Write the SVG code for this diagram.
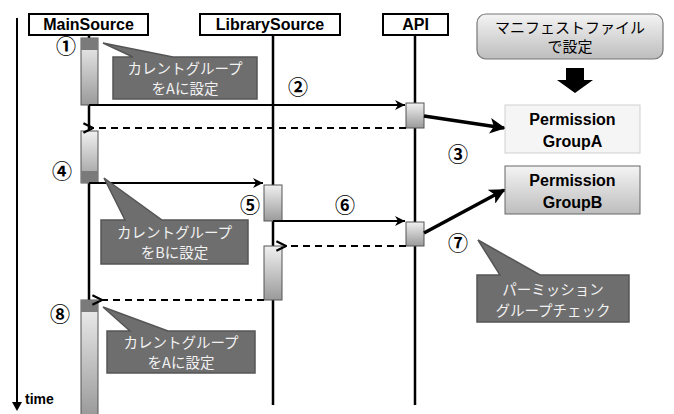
<svg xmlns="http://www.w3.org/2000/svg" width="674" height="414" viewBox="0 0 674 414">
  <style>
    .head { fill: #fff; stroke: #000; stroke-width: 2; }
    .headtxt { font-family: "Liberation Sans", Arial, sans-serif; font-weight: bold; font-size: 16px; text-anchor: middle; fill: #000; }
    .life { stroke: #000; stroke-width: 2.5; fill: none; }
    .act { fill: url(#actGrad); stroke: #555; stroke-width: 1; }
    .cap { fill: #7a7a7a; }
    .call { stroke: #000; stroke-width: 2; fill: none; marker-end: url(#solid); }
    .ret { stroke: #000; stroke-width: 2; fill: none; stroke-dasharray: 7 5; marker-end: url(#open); }
    .thick { stroke: #000; stroke-width: 3.5; fill: none; marker-end: url(#big); }
    .num { font-family: "Noto Sans CJK JP", "DejaVu Sans", sans-serif; font-weight: bold; font-size: 20px; text-anchor: middle; fill: #000; }
    .note { fill: #6e6e6e; stroke: #555; stroke-width: 1.5; }
    .notetxt { font-family: "Noto Sans CJK JP", "Liberation Sans", sans-serif; font-size: 14.5px; text-anchor: middle; fill: #f2f2f2; }
    .perm { font-family: "Liberation Sans", Arial, sans-serif; font-weight: bold; font-size: 16px; text-anchor: middle; fill: #000; }
    .jp { font-family: "Noto Sans CJK JP", sans-serif; font-size: 15px; text-anchor: middle; fill: #000; }
  </style>
  <defs>
    <linearGradient id="actGrad" x1="0" y1="0" x2="0" y2="1">
      <stop offset="0" stop-color="#f0f0f0"/>
      <stop offset="1" stop-color="#9a9a9a"/>
    </linearGradient>
    <linearGradient id="boxGrad" x1="0" y1="0" x2="0" y2="1">
      <stop offset="0" stop-color="#f4f4f4"/>
      <stop offset="1" stop-color="#bdbdbd"/>
    </linearGradient>
    <marker id="solid" viewBox="0 0 10 10" refX="10" refY="5" markerWidth="5" markerHeight="5" orient="auto" markerUnits="strokeWidth">
      <path d="M0,0 L10,5 L0,10 L3,5 Z" fill="#000"/>
    </marker>
    <marker id="open" viewBox="0 0 10 10" refX="1" refY="5" markerWidth="6" markerHeight="6" orient="auto" markerUnits="strokeWidth">
      <path d="M9,1 L1,5 L9,9" fill="none" stroke="#000" stroke-width="1.8"/>
    </marker>
    <marker id="big" viewBox="0 0 10 10" refX="9" refY="5" markerWidth="4.5" markerHeight="4.5" orient="auto" markerUnits="strokeWidth">
      <path d="M0,0 L10,5 L0,10 L2.5,5 Z" fill="#000"/>
    </marker>
  </defs>

  <!-- time axis -->
  <g id="time">
    <line x1="17" y1="18" x2="17" y2="404" stroke="#000" stroke-width="2"/>
    <path d="M12,402 L17,411 L22,402 Z" fill="#000"/>
    <text x="25" y="404" font-family="Liberation Sans, Arial, sans-serif" font-weight="bold" font-size="14">time</text>
  </g>

  <!-- lifelines -->
  <g id="lifelines">
    <line class="life" x1="89" y1="34" x2="89" y2="414"/>
    <line class="life" x1="273" y1="34" x2="273" y2="405"/>
    <line class="life" x1="415" y1="34" x2="415" y2="405"/>
  </g>

  <!-- participants -->
  <g id="MainSource">
    <rect class="head" x="29" y="14" width="119" height="21"/>
    <text class="headtxt" x="88.5" y="30">MainSource</text>
  </g>
  <g id="LibrarySource">
    <rect class="head" x="200" y="14" width="140" height="21"/>
    <text class="headtxt" x="270" y="30">LibrarySource</text>
  </g>
  <g id="API">
    <rect class="head" x="383" y="14" width="65" height="21"/>
    <text class="headtxt" x="415.5" y="30">API</text>
  </g>

  <!-- activation bars -->
  <g id="activations">
    <rect class="act" x="81" y="38" width="17" height="67"/>
    <rect class="cap" x="81" y="38" width="17" height="12"/>
    <rect class="act" x="81" y="131" width="17" height="52"/>
    <rect class="cap" x="81" y="171" width="17" height="12"/>
    <rect class="act" x="81" y="300" width="17" height="116"/>
    <rect class="cap" x="81" y="300" width="17" height="12"/>
    <rect class="act" x="264" y="185" width="18" height="36"/>
    <rect class="act" x="264" y="246" width="18" height="54"/>
    <rect class="act" x="406" y="103" width="18" height="25"/>
    <rect class="act" x="406" y="222" width="18" height="24"/>
  </g>

  <!-- manifest note and permission groups -->
  <g id="manifest">
    <rect x="477" y="14" width="186" height="45" rx="9" fill="url(#boxGrad)" stroke="#777" stroke-width="1.2"/>
    <text class="jp" x="570" y="33">マニフェストファイル</text>
    <text class="jp" x="570" y="52">で設定</text>
  </g>
  <g id="manifestArrow">
    <path d="M566,68 H584 V80 H593 L575,93 L557,80 H566 Z" fill="#000"/>
  </g>
  <g id="GroupA">
    <rect x="505" y="105" width="135" height="48" fill="#f5f5f5" stroke="#cfcfcf" stroke-width="1"/>
    <text class="perm" x="572.5" y="125">Permission</text>
    <text class="perm" x="572.5" y="147">GroupA</text>
  </g>
  <g id="GroupB">
    <rect x="505" y="166" width="135" height="48" fill="url(#boxGrad)" stroke="#666" stroke-width="1"/>
    <text class="perm" x="572.5" y="186">Permission</text>
    <text class="perm" x="572.5" y="208">GroupB</text>
  </g>

  <!-- messages -->
  <g id="connectors">
    <polyline class="call" points="89,105 405,105"/>
    <polyline class="ret" points="406,128 93,128"/>
    <polyline class="call" points="89,183 263,183"/>
    <polyline class="call" points="273,221 405,221"/>
    <polyline class="ret" points="406,246 286,246"/>
    <polyline class="ret" points="264,300 102,300"/>
    <line class="thick" x1="424" y1="116" x2="504" y2="128"/>
    <line class="thick" x1="424" y1="233" x2="504" y2="190"/>
  </g>

  <!-- step numbers -->
  <g id="steps">
    <text class="num" x="66" y="54">①</text>
    <text class="num" x="298" y="95">②</text>
    <text class="num" x="458" y="162">③</text>
    <text class="num" x="62" y="179">④</text>
    <text class="num" x="250" y="213">⑤</text>
    <text class="num" x="345" y="213">⑥</text>
    <text class="num" x="458" y="251">⑦</text>
    <text class="num" x="60" y="322">⑧</text>
  </g>

  <!-- callouts -->
  <g id="note1">
    <path class="note" d="M113,57 H133 L103,43 L173,57 H257 V99 H113 Z"/>
    <text class="notetxt" x="185" y="74">カレントグループ</text>
    <text class="notetxt" x="185" y="94">をAに設定</text>
  </g>
  <g id="note2">
    <path class="note" d="M101,220 H125 L104,178 L162,220 H248 V264 H101 Z"/>
    <text class="notetxt" x="174.5" y="238">カレントグループ</text>
    <text class="notetxt" x="174.5" y="258">をBに設定</text>
  </g>
  <g id="note3">
    <path class="note" d="M477,275 H500 L478,240 L540,275 H629 V322 H477 Z"/>
    <text class="notetxt" x="553" y="295">パーミッション</text>
    <text class="notetxt" x="553" y="316">グループチェック</text>
  </g>
  <g id="note4">
    <path class="note" d="M107,331 H130 L103,307 L168,331 H255 V373 H107 Z"/>
    <text class="notetxt" x="181" y="348">カレントグループ</text>
    <text class="notetxt" x="181" y="368">をAに設定</text>
  </g>
</svg>
